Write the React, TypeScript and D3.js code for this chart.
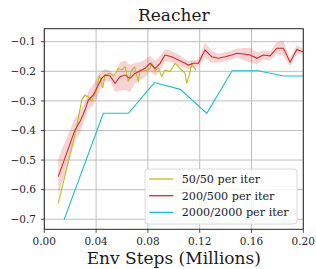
import React from "react";
import * as d3 from "d3";

const W = 316;
const H = 269;

const xTicks = [0, 0.04, 0.08, 0.12, 0.16, 0.2];
const yTicks = [-0.7, -0.6, -0.5, -0.4, -0.3, -0.2, -0.1];

const seriesNames = ["50/50 per iter", "200/500 per iter", "2000/2000 per iter"];
const seriesColors = ["#bcbd22", "#d62728", "#17becf"];

const yellowX = [0.0108, 0.025, 0.0289, 0.0314, 0.034, 0.0366, 0.0405, 0.0425, 0.0451, 0.0469, 0.0508, 0.0533, 0.0572, 0.0598, 0.0623, 0.0649, 0.0675, 0.0698, 0.0726, 0.0739, 0.0765, 0.0791, 0.0817, 0.083, 0.0855, 0.0881, 0.0907, 0.0932, 0.0971, 0.101, 0.1048, 0.1087, 0.11, 0.1126, 0.1139, 0.1151, 0.1164, 0.117];
const yellowY = [-0.646, -0.388, -0.297, -0.28, -0.287, -0.3, -0.263, -0.2125, -0.257, -0.2125, -0.207, -0.216, -0.19, -0.196, -0.184, -0.235, -0.196, -0.1855, -0.235, -0.196, -0.201, -0.196, -0.19, -0.173, -0.196, -0.19, -0.218, -0.196, -0.201, -0.173, -0.19, -0.207, -0.2405, -0.201, -0.173, -0.1845, -0.19, -0.196];

const redX = [0.0108, 0.0237, 0.0276, 0.0314, 0.034, 0.0379, 0.0417, 0.0443, 0.0469, 0.0508, 0.0546, 0.0585, 0.0623, 0.0662, 0.07, 0.0739, 0.0778, 0.0817, 0.0855, 0.0894, 0.0932, 0.0984, 0.1035, 0.1087, 0.1112, 0.1151, 0.119, 0.1241, 0.1293, 0.1344, 0.1396, 0.1448, 0.1486, 0.1537, 0.1589, 0.1641, 0.1692, 0.1744, 0.1795, 0.1846, 0.1898, 0.195, 0.1996];
const redY = [-0.556, -0.398, -0.37, -0.331, -0.297, -0.28, -0.246, -0.224, -0.2125, -0.216, -0.2405, -0.218, -0.2125, -0.224, -0.207, -0.199, -0.19, -0.173, -0.19, -0.173, -0.145, -0.151, -0.162, -0.173, -0.179, -0.173, -0.173, -0.128, -0.151, -0.156, -0.151, -0.145, -0.139, -0.1416, -0.145, -0.156, -0.145, -0.148, -0.122, -0.122, -0.169, -0.126, -0.134];
const redStd = [0.062, 0.04, 0.035, 0.03, 0.03, 0.035, 0.035, 0.025, 0.02, 0.018, 0.03, 0.048, 0.05, 0.045, 0.035, 0.03, 0.03, 0.025, 0.025, 0.025, 0.02, 0.02, 0.02, 0.015, 0.015, 0.012, 0.012, 0.025, 0.02, 0.015, 0.015, 0.015, 0.015, 0.02, 0.025, 0.02, 0.015, 0.015, 0.02, 0.025, 0.015, 0.015, 0.01];

const cyanX = [0.0152, 0.0456, 0.065, 0.085, 0.105, 0.1255, 0.145, 0.165, 0.185, 0.2];
const cyanY = [-0.702, -0.342, -0.342, -0.238, -0.261, -0.342, -0.198, -0.198, -0.216, -0.216];

const FONT = "'DejaVu Serif', serif";

export default function App() {
  const left = 44.3, right = 303.3, top = 28.7, bottom = 229.3;
  const x = d3.scaleLinear().domain([0, 0.2]).range([left, right]);
  const y = d3.scaleLinear().domain([-0.734, -0.056]).range([bottom, top]);

  const line = d3
    .line<[number, number]>()
    .x((d) => x(d[0]))
    .y((d) => y(d[1]));

  const area = d3
    .area<number>()
    .x((i) => x(redX[i]))
    .y0((i) => y(redY[i] - redStd[i]))
    .y1((i) => y(redY[i] + redStd[i]));

  const yellow = yellowX.map((v, i) => [v, yellowY[i]] as [number, number]);
  const red = redX.map((v, i) => [v, redY[i]] as [number, number]);
  const cyan = cyanX.map((v, i) => [v, cyanY[i]] as [number, number]);
  const fmtX = d3.format(".2f");
  const fmtY = (v: number) => d3.format(".1f")(v).replace("-", "\u2212");

  const legX = 145, legY = 169, legW = 152, legH = 55;

  return (
    <svg width={W} height={H} style={{ position: "absolute", left: 0, top: 0, background: "#fff" }} fontFamily={FONT}>
      <defs>
        <clipPath id="plot">
          <rect x={left} y={top} width={right - left} height={bottom - top} />
        </clipPath>
      </defs>
      <rect x={0} y={0} width={W} height={H} fill="#fff" />
      {xTicks.map((t) => (
        <line key={"gx" + t} x1={x(t)} x2={x(t)} y1={top} y2={bottom} stroke="#bfbfbf" strokeWidth={1} />
      ))}
      {yTicks.map((t) => (
        <line key={"gy" + t} x1={left} x2={right} y1={y(t)} y2={y(t)} stroke="#bfbfbf" strokeWidth={1} />
      ))}
      <g clipPath="url(#plot)">
        <path d={area(d3.range(redX.length)) || ""} fill="#d62728" fillOpacity={0.2} stroke="none" />
        <path d={line(cyan) || ""} fill="none" stroke={seriesColors[2]} strokeWidth={1.1} />
        <path d={line(yellow) || ""} fill="none" stroke={seriesColors[0]} strokeWidth={1.1} />
        <path d={line(red) || ""} fill="none" stroke={seriesColors[1]} strokeWidth={1.1} />
      </g>
      <rect x={left} y={top} width={right - left} height={bottom - top} fill="none" stroke="#262626" strokeWidth={1} />
      {xTicks.map((t) => (
        <g key={"tx" + t}>
          <line x1={x(t)} x2={x(t)} y1={bottom} y2={bottom + 3.5} stroke="#262626" strokeWidth={0.8} />
          <text x={x(t)} y={245} fontSize={10.5} textAnchor="middle" fill="#262626">
            {fmtX(t)}
          </text>
        </g>
      ))}
      {yTicks.map((t) => (
        <g key={"ty" + t}>
          <line x1={left - 3.5} x2={left} y1={y(t)} y2={y(t)} stroke="#262626" strokeWidth={0.8} />
          <text x={36} y={y(t)} dy="0.36em" fontSize={10.5} textAnchor="end" fill="#262626">
            {fmtY(t)}
          </text>
        </g>
      ))}
      <text x={(left + right) / 2} y={21} fontSize={17} textAnchor="middle" fill="#1a1a1a">
        Reacher
      </text>
      <text x={(left + right) / 2} y={264} fontSize={17} textAnchor="middle" fill="#1a1a1a">
        Env Steps (Millions)
      </text>
      <rect x={legX} y={legY} width={legW} height={legH} rx={3} fill="#fff" fillOpacity={0.85} stroke="#d0d0d0" strokeWidth={0.8} />
      {seriesNames.map((n, i) => (
        <g key={n}>
          <line x1={149.3} x2={173.3} y1={179 + i * 16.7} y2={179 + i * 16.7} stroke={seriesColors[i]} strokeWidth={1.3} />
          <text x={181.7} y={179 + i * 16.7} dy="0.36em" fontSize={11.2} fill="#1a1a1a">
            {n}
          </text>
        </g>
      ))}
    </svg>
  );
}
